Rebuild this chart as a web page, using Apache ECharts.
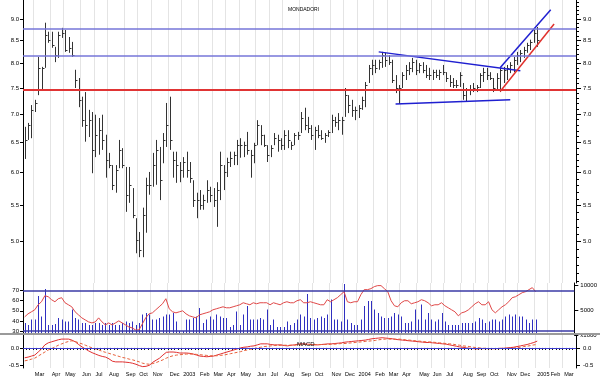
<!DOCTYPE html>
<html>
<head>
<meta charset="utf-8">
<script src="https://cdn.jsdelivr.net/npm/echarts@6/dist/echarts.min.js"></script>
<style>
  html, body { margin: 0; padding: 0; background: #fff; }
  #chart { width: 600px; height: 378px; }
</style>
</head>
<body>
<div id="chart"></div>
<script>
// weekly bars, first week ends 2002-02-08, axis runs to end of March 2005
const startDate = Date.UTC(2002, 1, 8)
const weekCount = 164
const monthNames = ['Jan', 'Feb', 'Mar', 'Apr', 'May', 'Jun', 'Jul', 'Aug', 'Sep', 'Oct', 'Nov', 'Dec']

const high = [
  6.77, 6.84, 7.17, 7.27, 8.14, 7.93, 8.91, 8.70, 8.70, 8.36,
  8.70, 8.79, 8.74, 8.58, 8.47, 7.87, 7.70, 7.33, 7.42, 7.08,
  7.04, 6.99, 6.93, 6.99, 6.63, 6.32, 6.12, 6.12, 6.54, 6.40,
  6.09, 6.09, 5.76, 5.32, 5.13, 5.47, 5.92, 6.01, 6.32, 6.54,
  6.42, 6.66, 7.21, 7.33, 6.34, 6.34, 6.17, 6.25, 6.34, 6.17,
  5.88, 5.69, 5.73, 5.66, 5.88, 5.78, 5.76, 5.85, 6.34, 6.12,
  6.24, 6.34, 6.34, 6.54, 6.57, 6.51, 6.68, 6.37, 6.49, 6.89,
  6.80, 6.63, 6.45, 6.45, 6.66, 6.63, 6.57, 6.71, 6.71, 6.51,
  6.66, 6.68, 7.04, 7.12, 6.95, 6.80, 6.77, 6.80, 6.71, 6.66,
  6.71, 6.99, 6.95, 7.02, 6.95, 7.50, 7.36, 7.27, 7.14, 7.17,
  7.33, 7.62, 7.97, 8.08, 8.08, 8.08, 8.25, 8.23, 8.18, 8.08,
  7.76, 7.56, 7.82, 7.97, 8.03, 8.12, 8.08, 8.01, 8.03, 7.97,
  7.91, 7.87, 7.87, 7.87, 7.97, 7.82, 7.76, 7.70, 7.66, 7.82,
  7.60, 7.50, 7.56, 7.60, 7.56, 7.80, 7.91, 7.91, 7.82, 7.70,
  7.80, 7.91, 7.93, 7.97, 8.03, 8.14, 8.25, 8.29, 8.36, 8.45,
  8.52, 8.74, 8.81
]
const low = [
  6.22, 6.54, 6.57, 7.04, 7.36, 7.46, 7.91, 8.45, 8.34, 8.03,
  8.12, 8.56, 8.25, 8.23, 8.14, 7.50, 7.13, 6.77, 6.51, 6.59,
  5.99, 6.25, 6.29, 6.37, 5.92, 6.07, 5.73, 5.69, 6.07, 6.07,
  5.41, 5.54, 5.32, 4.85, 4.80, 4.80, 5.12, 5.66, 5.78, 5.81,
  5.58, 6.15, 6.42, 6.37, 5.92, 5.84, 5.85, 5.92, 5.92, 5.84,
  5.48, 5.32, 5.44, 5.44, 5.54, 5.55, 5.48, 5.20, 5.58, 5.73,
  5.93, 6.09, 6.12, 6.12, 6.24, 6.25, 6.29, 5.92, 6.15, 6.45,
  6.45, 6.42, 6.17, 6.25, 6.45, 6.34, 6.37, 6.37, 6.40, 6.37,
  6.45, 6.54, 6.66, 6.71, 6.66, 6.54, 6.37, 6.57, 6.54, 6.49,
  6.59, 6.66, 6.77, 6.71, 6.63, 6.95, 7.02, 6.95, 6.89, 6.93,
  7.08, 7.13, 7.60, 7.76, 7.80, 7.87, 7.91, 7.93, 7.97, 7.60,
  7.40, 7.19, 7.50, 7.66, 7.76, 7.82, 7.76, 7.80, 7.80, 7.70,
  7.66, 7.66, 7.70, 7.66, 7.76, 7.62, 7.52, 7.50, 7.50, 7.52,
  7.27, 7.23, 7.36, 7.42, 7.42, 7.50, 7.62, 7.66, 7.66, 7.42,
  7.46, 7.42, 7.60, 7.66, 7.80, 7.82, 7.97, 8.03, 8.12, 8.23,
  8.29, 8.45, 8.36
]
const close = [
  6.54, 6.80, 7.08, 7.21, 7.91, 7.91, 8.63, 8.52, 8.40, 8.18,
  8.63, 8.67, 8.29, 8.34, 8.18, 7.66, 7.27, 6.89, 6.80, 6.89,
  6.37, 6.63, 6.71, 6.54, 6.20, 6.12, 5.81, 6.04, 6.37, 6.12,
  5.66, 5.81, 5.37, 5.02, 4.89, 5.37, 5.81, 5.81, 6.12, 6.37,
  5.88, 6.54, 6.80, 6.54, 6.20, 6.12, 6.04, 6.17, 6.04, 5.92,
  5.58, 5.58, 5.51, 5.58, 5.73, 5.66, 5.58, 5.73, 6.12, 6.01,
  6.17, 6.24, 6.29, 6.45, 6.45, 6.45, 6.37, 6.29, 6.45, 6.80,
  6.63, 6.45, 6.29, 6.40, 6.57, 6.54, 6.45, 6.63, 6.54, 6.45,
  6.63, 6.63, 6.93, 6.80, 6.75, 6.63, 6.71, 6.63, 6.57, 6.63,
  6.68, 6.89, 6.86, 6.89, 6.89, 7.36, 7.17, 7.08, 7.08, 7.12,
  7.27, 7.56, 7.91, 7.97, 7.91, 8.03, 8.18, 8.08, 8.03, 7.66,
  7.50, 7.50, 7.76, 7.87, 7.91, 8.03, 7.87, 7.97, 7.87, 7.76,
  7.76, 7.82, 7.76, 7.82, 7.82, 7.70, 7.62, 7.56, 7.56, 7.76,
  7.36, 7.46, 7.46, 7.50, 7.52, 7.76, 7.82, 7.76, 7.70, 7.50,
  7.70, 7.87, 7.87, 7.91, 7.97, 8.08, 8.18, 8.23, 8.29, 8.40,
  8.47, 8.67, 8.52
]
// volume, in thousands (axis says x1000)
const volume = [
  2400, 2000, 3100, 3100, 7800, 3700, 9200, 2000, 2000, 2200,
  3400, 3100, 2700, 2700, 5100, 3400, 3100, 2400, 2400, 2000,
  2000, 2400, 2400, 2000, 2400, 2000, 2400, 2000, 2000, 2400,
  2700, 2400, 2700, 2000, 2400, 4100, 4400, 4100, 3100, 3100,
  3400, 3700, 4100, 4100, 4400, 2700, 800, 800, 3100, 3100,
  3400, 3700, 5400, 2400, 3100, 3700, 3100, 4100, 3700, 3400,
  3400, 1600, 2000, 4700, 2000, 4100, 5800, 3100, 3100, 3100,
  3400, 3100, 5100, 2000, 3100, 1600, 1600, 1600, 2700, 2000,
  2400, 3100, 4100, 3700, 8200, 3400, 3100, 3400, 3700, 3400,
  4100, 7100, 3100, 3100, 2700, 10200, 3100, 2400, 2000, 2000,
  3100, 5800, 6800, 6800, 5100, 4400, 3700, 3400, 3400, 3700,
  4400, 4100, 3700, 2400, 2400, 2700, 5100, 3100, 6100, 3100,
  4400, 3100, 2700, 3100, 4400, 2700, 2000, 2000, 2000, 2000,
  2400, 2400, 2400, 2400, 2700, 3400, 3100, 2400, 2700, 3100,
  3100, 2700, 3100, 3700, 4100, 3700, 4100, 3700, 3700, 3100,
  2400, 3100, 3100
]
const rsi = [
  44, 47, 49, 51, 56, 59, 65, 64, 61, 59,
  62, 63, 58, 56, 54, 49, 46, 43, 41, 39,
  38, 39, 43, 39, 36, 38, 36, 38, 40, 38,
  36, 34, 33, 31, 31, 37, 43, 47, 48, 51,
  54, 57, 62, 52, 49, 48, 49, 50, 47, 45,
  44, 43, 46, 47, 48, 49, 51, 52, 53, 54,
  53, 53, 54, 55, 56, 58, 57, 56, 58, 57,
  58, 58, 58, 56, 58, 57, 56, 58, 59, 58,
  58, 60, 61, 58, 58, 59, 58, 57, 56, 56,
  61, 59, 61, 63, 66, 69, 59, 58, 59, 59,
  66, 71, 71, 72, 74, 75, 75, 72, 69, 60,
  55, 54, 58, 60, 60, 57, 58, 59, 61, 60,
  58, 55, 56, 56, 58, 55, 53, 51, 49, 45,
  48, 49, 51, 54, 57, 59, 56, 56, 59, 51,
  48, 51, 54, 56, 59, 63, 64, 66, 68, 69,
  71, 73, 69
]
const macd = [
  -0.29, -0.27, -0.24, -0.21, -0.12, -0.03, 0.09, 0.15, 0.18, 0.21,
  0.24, 0.26, 0.26, 0.26, 0.23, 0.18, 0.10, 0.03, -0.03, -0.09,
  -0.14, -0.18, -0.22, -0.25, -0.27, -0.32, -0.39, -0.41, -0.41, -0.41,
  -0.42, -0.43, -0.45, -0.48, -0.52, -0.55, -0.54, -0.51, -0.42, -0.36,
  -0.30, -0.21, -0.13, -0.12, -0.12, -0.13, -0.15, -0.15, -0.15, -0.16,
  -0.18, -0.21, -0.24, -0.25, -0.26, -0.25, -0.24, -0.21, -0.18, -0.15,
  -0.12, -0.09, -0.06, -0.03, 0.00, 0.02, 0.03, 0.05, 0.06, 0.09,
  0.12, 0.12, 0.12, 0.10, 0.09, 0.09, 0.09, 0.07, 0.06, 0.08,
  0.09, 0.11, 0.12, 0.12, 0.11, 0.10, 0.09, 0.09, 0.10, 0.11,
  0.12, 0.12, 0.13, 0.14, 0.15, 0.17, 0.18, 0.19, 0.20, 0.21,
  0.22, 0.23, 0.25, 0.27, 0.28, 0.29, 0.30, 0.29, 0.28, 0.27,
  0.25, 0.24, 0.23, 0.22, 0.21, 0.20, 0.19, 0.18, 0.17, 0.16,
  0.16, 0.15, 0.14, 0.13, 0.12, 0.11, 0.09, 0.07, 0.05, 0.03,
  0.02, 0.00, -0.01, -0.02, -0.03, -0.02, -0.02, -0.02, -0.02, -0.02,
  -0.02, -0.01, -0.01, 0.00, 0.01, 0.02, 0.04, 0.06, 0.08, 0.10,
  0.13, 0.16, 0.20
]
const macdSignal = [
  -0.38, -0.36, -0.33, -0.30, -0.24, -0.18, -0.12, -0.06, -0.02, 0.03,
  0.08, 0.12, 0.16, 0.19, 0.21, 0.19, 0.15, 0.12, 0.08, 0.04,
  0.00, -0.03, -0.06, -0.10, -0.13, -0.16, -0.19, -0.22, -0.25, -0.28,
  -0.30, -0.33, -0.35, -0.38, -0.41, -0.45, -0.47, -0.48, -0.46, -0.43,
  -0.39, -0.35, -0.30, -0.26, -0.23, -0.21, -0.20, -0.19, -0.18, -0.18,
  -0.18, -0.19, -0.20, -0.21, -0.22, -0.23, -0.23, -0.23, -0.22, -0.21,
  -0.19, -0.17, -0.15, -0.13, -0.11, -0.08, -0.06, -0.04, -0.02, 0.00,
  0.02, 0.04, 0.05, 0.06, 0.07, 0.07, 0.08, 0.08, 0.08, 0.08,
  0.08, 0.09, 0.09, 0.10, 0.10, 0.10, 0.10, 0.10, 0.10, 0.10,
  0.10, 0.11, 0.11, 0.12, 0.13, 0.13, 0.14, 0.15, 0.16, 0.17,
  0.18, 0.19, 0.20, 0.21, 0.22, 0.24, 0.25, 0.26, 0.26, 0.26,
  0.26, 0.26, 0.25, 0.24, 0.23, 0.22, 0.21, 0.20, 0.19, 0.18,
  0.18, 0.17, 0.16, 0.15, 0.14, 0.13, 0.12, 0.11, 0.09, 0.08,
  0.06, 0.05, 0.04, 0.02, 0.01, 0.00, -0.01, -0.01, -0.02, -0.02,
  -0.02, -0.02, -0.02, -0.01, -0.01, 0.00, 0.01, 0.02, 0.04, 0.05,
  0.07, 0.09, 0.10
]

// support / resistance drawn on the chart: [week index, price]
const levelBlue = [8.78, 8.15]
const levelRed = [7.43]
const trendTop = [[105, 8.25], [147, 7.85]]
const trendBottom = [[110, 7.19], [144, 7.27]]
const channelTop = [[141, 7.91], [156, 9.22]]
const channelBottom = [[141, 7.43], [157, 8.88]]

const priceTicks = [5.0, 5.5, 6.0, 6.5, 7.0, 7.5, 8.0, 8.5, 9.0]
const priceRange = [4.484, 9.46]
const rsiTicks = [30, 40, 50, 60, 70]
const volTicks = [0, 5000, 10000]
const macdTicks = [-0.5, 0]

// week categories
const weeks = []
for (let k = 0; k < weekCount; k++) {
  weeks.push(new Date(startDate + k * 7 * 86400000).toISOString().slice(0, 10))
}
const isMonthStart = (index) => +weeks[index].slice(8, 10) <= 7
const monthLabel = (value) => {
  const m = +value.slice(5, 7)
  return m === 1 ? value.slice(0, 4) : monthNames[m - 1]
}

// minor ticks on the right price scale, every 0.1
const minorTicks = []
for (let t = 45; t <= 94; t++) minorTicks.push(Math.log(t / 10))

const ln = Math.log
const priceFmt = v => Math.exp(v).toFixed(1)
const font = 'Liberation Sans'
const gridLine = {show: true, interval: isMonthStart, lineStyle: {color: '#e4e4e4', width: 1}}

// HLC bar: high-low stick + close tick on the right
function renderBar (params, api) {
  const top = api.coord([api.value(0), api.value(1)])
  const bottom = api.coord([api.value(0), api.value(2)])
  const cls = api.coord([api.value(0), api.value(3)])
  const x = Math.round(top[0]) + 0.5
  const yc = Math.round(cls[1]) + 0.5
  return {
    type: 'group',
    children: [
      {type: 'line', shape: {x1: x, y1: top[1], x2: x, y2: bottom[1]}, style: {stroke: '#333', lineWidth: 1}},
      {type: 'line', shape: {x1: x, y1: yc, x2: x + 2, y2: yc}, style: {stroke: '#333', lineWidth: 1}}
    ]
  }
}

// volume stick from zero
function renderVolume (params, api) {
  const base = api.coord([api.value(0), 0])
  const top = api.coord([api.value(0), api.value(1)])
  const x = Math.round(base[0]) + 0.5
  return {
    type: 'line',
    shape: {x1: x, y1: base[1], x2: x, y2: top[1]},
    style: {stroke: '#3030c0', lineWidth: 1}
  }
}

function trendSeries (points, color) {
  return {
    type: 'line',
    xAxisIndex: 0,
    yAxisIndex: 0,
    data: points.map(p => [p[0], ln(p[1])]),
    symbol: 'none',
    silent: true,
    lineStyle: {color: color, width: 1.5},
    z: 4
  }
}

let chart = echarts.init(document.getElementById('chart'), null, {renderer: 'canvas'})

let option = {
  animation: false,
  backgroundColor: '#fff',
  textStyle: {fontFamily: font},
  title: [
    {text: 'MONDADORI', left: 283, top: 2, textStyle: {fontSize: 5, fontWeight: 'normal', color: '#000', fontFamily: font}},
    {text: 'MACD', left: 292, top: 336, textStyle: {fontSize: 6, fontWeight: 'normal', color: '#000', fontFamily: font}}
  ],
  grid: [
    {left: 23, right: 24, top: 0, height: 283},
    {left: 23, right: 24, top: 283, height: 52},
    {left: 23, right: 24, top: 335, height: 33}
  ],
  graphic: [
    {type: 'rect', left: 0, top: 333, shape: {width: 600, height: 2}, style: {fill: '#9a9a9a'}, z: 10, silent: true}
  ],
  xAxis: [0, 1, 2].map(g => ({
    gridIndex: g,
    type: 'category',
    data: weeks,
    boundaryGap: true,
    axisLine: {show: g === 2, lineStyle: {color: '#000'}},
    axisTick: {show: g === 2, interval: 0, length: 2, lineStyle: {color: '#000'}},
    axisLabel: {
      show: g === 2,
      interval: isMonthStart,
      formatter: monthLabel,
      align: 'left',
      fontSize: 5.5,
      margin: 3,
      color: '#000'
    },
    splitLine: gridLine
  })),
  yAxis: [
    // price, left
    {
      gridIndex: 0, type: 'value', position: 'left',
      min: ln(priceRange[0]), max: ln(priceRange[1]),
      axisLine: {show: true, lineStyle: {color: '#000'}},
      axisTick: {show: true, length: 3, customValues: priceTicks.map(ln), lineStyle: {color: '#000'}},
      axisLabel: {customValues: priceTicks.map(ln), formatter: priceFmt, fontSize: 6, color: '#000', margin: 4},
      splitLine: {show: false}
    },
    // price, right
    {
      gridIndex: 0, type: 'value', position: 'right',
      min: ln(priceRange[0]), max: ln(priceRange[1]),
      axisLine: {show: true, lineStyle: {color: '#000'}},
      axisTick: {show: true, length: 5, customValues: priceTicks.map(ln), lineStyle: {color: '#000'}},
      axisLabel: {customValues: priceTicks.map(ln), formatter: priceFmt, fontSize: 6, color: '#000', margin: 7},
      splitLine: {show: false}
    },
    // rsi, left
    {
      gridIndex: 1, type: 'value', position: 'left', min: 26, max: 77.6,
      axisLine: {show: true, lineStyle: {color: '#000'}},
      axisTick: {show: true, length: 3, customValues: rsiTicks, lineStyle: {color: '#000'}},
      axisLabel: {customValues: rsiTicks, fontSize: 6, color: '#000', margin: 4},
      splitLine: {show: false}
    },
    // volume, right
    {
      gridIndex: 1, type: 'value', position: 'right', min: 0, max: 10400,
      axisLine: {show: true, lineStyle: {color: '#000'}},
      axisTick: {show: true, length: 4, customValues: volTicks, lineStyle: {color: '#000'}},
      axisLabel: {customValues: volTicks, formatter: v => (v === 0 ? 'x1000' : String(v)), fontSize: 6, color: '#000', margin: 6},
      splitLine: {show: false}
    },
    // macd, left
    {
      gridIndex: 2, type: 'value', position: 'left', min: -0.59, max: 0.38,
      axisLine: {show: true, lineStyle: {color: '#000'}},
      axisTick: {show: true, length: 3, customValues: macdTicks, lineStyle: {color: '#000'}},
      axisLabel: {customValues: macdTicks, formatter: v => v.toFixed(1), fontSize: 6, color: '#000', margin: 4},
      splitLine: {show: false}
    },
    // macd, right
    {
      gridIndex: 2, type: 'value', position: 'right', min: -0.59, max: 0.38,
      axisLine: {show: true, lineStyle: {color: '#000'}},
      axisTick: {show: true, length: 4, customValues: macdTicks, lineStyle: {color: '#000'}},
      axisLabel: {customValues: macdTicks, formatter: v => v.toFixed(1), fontSize: 6, color: '#000', margin: 7},
      splitLine: {show: false}
    },
    // price, right minor ticks
    {
      gridIndex: 0, type: 'value', position: 'right',
      min: ln(priceRange[0]), max: ln(priceRange[1]),
      axisLine: {show: false},
      axisTick: {show: true, length: 3, customValues: minorTicks, lineStyle: {color: '#000'}},
      axisLabel: {show: false},
      splitLine: {show: false}
    }
  ],
  series: [
    {
      name: 'price',
      type: 'custom',
      xAxisIndex: 0,
      yAxisIndex: 0,
      renderItem: renderBar,
      encode: {x: 0, y: [1, 2, 3]},
      data: high.map((h, i) => [i, ln(h), ln(low[i]), ln(close[i])]),
      silent: true,
      z: 3
    },
    Object.assign(trendSeries(trendTop, '#1f1fd0'), {
      markLine: {
        silent: true,
        symbol: 'none',
        label: {show: false},
        data: levelBlue.map(v => ({yAxis: ln(v), lineStyle: {color: '#7676d8', width: 1.5, type: 'solid'}}))
          .concat(levelRed.map(v => ({yAxis: ln(v), lineStyle: {color: '#e03434', width: 2, type: 'solid'}})))
      }
    }),
    trendSeries(trendBottom, '#1f1fd0'),
    trendSeries(channelTop, '#1f1fd0'),
    trendSeries(channelBottom, '#e0302c'),
    {
      name: 'volume',
      type: 'custom',
      xAxisIndex: 1,
      yAxisIndex: 3,
      renderItem: renderVolume,
      encode: {x: 0, y: 1},
      data: volume.map((v, i) => [i, v]),
      silent: true,
      z: 2
    },
    {
      name: 'rsi',
      type: 'line',
      xAxisIndex: 1,
      yAxisIndex: 2,
      data: rsi,
      symbol: 'none',
      lineStyle: {color: '#e04848', width: 1},
      silent: true,
      z: 4,
      markLine: {
        silent: true,
        symbol: 'none',
        label: {show: false},
        lineStyle: {color: '#3a3aa6', width: 1.5, type: 'solid'},
        data: [{yAxis: 70}, {yAxis: 30}]
      }
    },
    {
      name: 'macd',
      type: 'line',
      xAxisIndex: 2,
      yAxisIndex: 4,
      data: macd,
      symbol: 'none',
      lineStyle: {color: '#e03030', width: 1},
      silent: true,
      z: 4,
      markLine: {
        silent: true,
        symbol: 'none',
        label: {show: false},
        lineStyle: {color: '#3e3ed0', width: 1.2, type: 'solid'},
        data: [{yAxis: 0}]
      }
    },
    {
      name: 'signal',
      type: 'line',
      xAxisIndex: 2,
      yAxisIndex: 4,
      data: macdSignal,
      symbol: 'none',
      lineStyle: {color: '#e8603a', width: 1, type: [3, 2]},
      silent: true,
      z: 4
    }
  ]
}

chart.setOption(option)
</script>
</body>
</html>
